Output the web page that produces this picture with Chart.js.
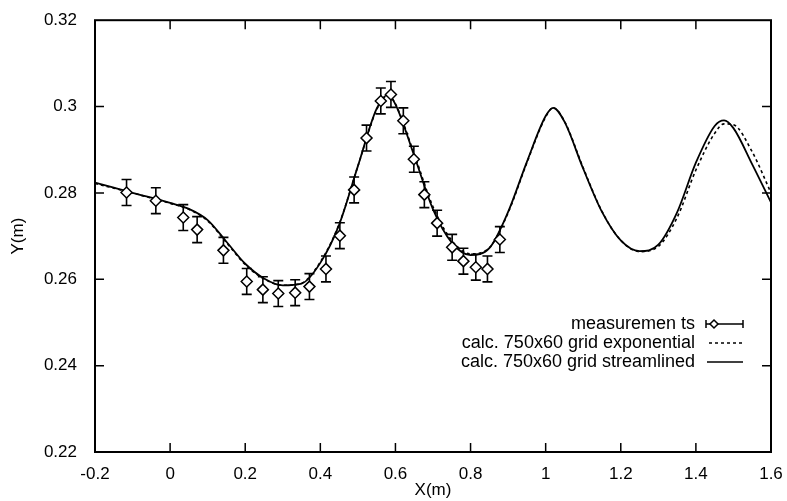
<!DOCTYPE html>
<html>
<head>
<meta charset="utf-8">
<script src="https://cdn.jsdelivr.net/npm/chart.js@4.4.0/dist/chart.umd.min.js"></script>
<style>
    html, body { margin: 0; padding: 0; background: #fff; }
    #wrap { width: 787px; height: 501px; }
</style>
</head>
<body>
<div id="wrap"><canvas id="profileChart" width="787" height="501"></canvas></div>
<script>
// ====================== //
// DATA                   //
// ====================== //

const measX = [-0.116, -0.038, 0.035, 0.072, 0.142, 0.204, 0.247, 0.288, 0.333, 0.371, 0.415, 0.452, 0.490,
               0.523, 0.561, 0.588, 0.621, 0.649, 0.677, 0.711, 0.751, 0.781, 0.814, 0.845, 0.878];
const measY = [0.2801, 0.2782, 0.2743, 0.2715, 0.2667, 0.2595, 0.2576, 0.2567, 0.2569, 0.2583, 0.2624, 0.2701, 0.2807,
               0.2927, 0.3013, 0.3028, 0.2967, 0.2878, 0.2796, 0.2730, 0.2674, 0.2642, 0.2628, 0.2624, 0.2692];
const measErr = [0.003, 0.003, 0.003, 0.003, 0.003, 0.003, 0.003, 0.003, 0.003, 0.003, 0.003, 0.003, 0.003,
                 0.003, 0.003, 0.003, 0.003, 0.003, 0.003, 0.003, 0.003, 0.003, 0.003, 0.003, 0.003];

const curveX = [-0.2, -0.15, -0.1, -0.05, 0, 0.05, 0.1, 0.15, 0.2, 0.25, 0.3, 0.35, 0.4, 0.45, 0.5, 0.55, 0.58,
                0.6, 0.65, 0.7, 0.75, 0.8, 0.85, 0.9, 0.95, 1.0, 1.02, 1.05, 1.1, 1.15, 1.2, 1.25, 1.3, 1.35,
                1.4, 1.45, 1.475, 1.5, 1.55, 1.6];
const streamY = [0.2824, 0.2812, 0.2800, 0.2789, 0.2777, 0.2763, 0.2737, 0.2687, 0.2636, 0.2602, 0.2586, 0.2590,
                 0.2638, 0.2726, 0.2862, 0.2995, 0.3027, 0.3005, 0.2886, 0.2762, 0.2685, 0.2656, 0.2672, 0.2756,
                 0.2872, 0.2978, 0.2997, 0.2965, 0.2856, 0.2756, 0.2690, 0.2665, 0.2680, 0.2755, 0.2870, 0.2955,
                 0.2968, 0.2950, 0.2866, 0.2778];
const expY = [0.2822, 0.2811, 0.2800, 0.2788, 0.2776, 0.2762, 0.2735, 0.2685, 0.2634, 0.2601, 0.2586, 0.2591,
              0.2640, 0.2728, 0.2862, 0.2993, 0.3026, 0.3006, 0.2890, 0.2768, 0.2690, 0.2659, 0.2673, 0.2754,
              0.2870, 0.2976, 0.2997, 0.2966, 0.2858, 0.2757, 0.2690, 0.2664, 0.2676, 0.2743, 0.2853, 0.2938,
              0.2960, 0.2958, 0.2895, 0.2800];

const xTickValues = [-0.2, 0, 0.2, 0.4, 0.6, 0.8, 1.0, 1.2, 1.4, 1.6];
const xTickLabels = ['-0.2', '0', '0.2', '0.4', '0.6', '0.8', '1', '1.2', '1.4', '1.6'];
const yTickValues = [0.22, 0.24, 0.26, 0.28, 0.30, 0.32];
const yTickLabels = ['0.22', '0.24', '0.26', '0.28', '0.3', '0.32'];

const seriesNames = ['measuremen ts', 'calc. 750x60 grid exponential', 'calc. 750x60 grid streamlined'];

const FONT = 'Liberation Sans, Arial, Helvetica, sans-serif';

// ====================== //
// PLUGIN: frame, ticks,  //
// error bars, legend     //
// ====================== //

const plotDecor = {
    id: 'plotDecor',
    beforeDatasetsDraw(chart) {
        const ctx = chart.ctx;
        const xs = chart.scales.x, ys = chart.scales.y;
        ctx.save();
        ctx.strokeStyle = '#000';
        ctx.lineWidth = 1.6;
        measX.forEach((x, i) => {
            const px = xs.getPixelForValue(x);
            const top = ys.getPixelForValue(measY[i] + measErr[i]);
            const bot = ys.getPixelForValue(measY[i] - measErr[i]);
            ctx.beginPath();
            ctx.moveTo(px, top); ctx.lineTo(px, bot);
            ctx.moveTo(px - 5, top); ctx.lineTo(px + 5, top);
            ctx.moveTo(px - 5, bot); ctx.lineTo(px + 5, bot);
            ctx.stroke();
        });
        ctx.restore();
    },
    afterDraw(chart) {
        const ctx = chart.ctx;
        const a = chart.chartArea;
        const xs = chart.scales.x, ys = chart.scales.y;
        const tl = 9;
        ctx.save();
        ctx.strokeStyle = '#000';
        ctx.lineWidth = 1.5;
        ctx.beginPath();
        xTickValues.slice(1, -1).forEach(v => {
            const px = xs.getPixelForValue(v);
            ctx.moveTo(px, a.bottom); ctx.lineTo(px, a.bottom - tl);
            ctx.moveTo(px, a.top); ctx.lineTo(px, a.top + tl);
        });
        yTickValues.slice(1, -1).forEach(v => {
            const py = ys.getPixelForValue(v);
            ctx.moveTo(a.left, py); ctx.lineTo(a.left + tl, py);
            ctx.moveTo(a.right, py); ctx.lineTo(a.right - tl, py);
        });
        ctx.stroke();

        // frame
        ctx.lineWidth = 2;
        ctx.strokeRect(a.left, a.top, a.right - a.left, a.bottom - a.top);

        // legend (text right aligned, sample to the right)
        ctx.font = '18px ' + FONT;
        ctx.fillStyle = '#000';
        ctx.textAlign = 'right';
        ctx.textBaseline = 'middle';
        const textRight = 695, s0 = 706, s1 = 743;
        const rows = [324, 343, 362];
        seriesNames.forEach((name, i) => ctx.fillText(name, textRight, rows[i]));

        ctx.lineWidth = 1.5;
        // measurements sample
        let y = rows[0];
        ctx.beginPath();
        ctx.moveTo(s0, y); ctx.lineTo(s1, y);
        ctx.moveTo(s0, y - 4); ctx.lineTo(s0, y + 4);
        ctx.moveTo(s1, y - 4); ctx.lineTo(s1, y + 4);
        ctx.stroke();
        ctx.beginPath();
        ctx.moveTo(714, y - 4); ctx.lineTo(718, y); ctx.lineTo(714, y + 4); ctx.lineTo(710, y);
        ctx.closePath();
        ctx.fillStyle = '#fff';
        ctx.fill();
        ctx.stroke();
        // dashed sample
        y = rows[1];
        ctx.setLineDash([3, 3]);
        ctx.beginPath(); ctx.moveTo(s0 + 3, y); ctx.lineTo(s1, y); ctx.stroke();
        ctx.setLineDash([]);
        // solid sample
        y = rows[2];
        ctx.beginPath(); ctx.moveTo(s0 + 1, y); ctx.lineTo(s1, y); ctx.stroke();
        ctx.restore();
    }
};

// ====================== //
// CHART                  //
// ====================== //

const toPoints = (xArr, yArr) => xArr.map((x, i) => ({ x: x, y: yArr[i] }));

new Chart(document.getElementById('profileChart'), {
    type: 'scatter',
    data: {
        datasets: [
            {
                label: seriesNames[0],
                data: toPoints(measX, measY),
                showLine: false,
                pointStyle: 'rectRot',
                pointRadius: 5.5,
                pointBorderWidth: 1.5,
                pointBorderColor: '#000',
                pointBackgroundColor: '#fff',
                order: 0
            },
            {
                label: seriesNames[1],
                data: toPoints(curveX, expY),
                showLine: true,
                borderColor: '#000',
                borderWidth: 1.6,
                borderDash: [3, 3],
                pointRadius: 0,
                cubicInterpolationMode: 'monotone',
                order: 2
            },
            {
                label: seriesNames[2],
                data: toPoints(curveX, streamY),
                showLine: true,
                borderColor: '#000',
                borderWidth: 1.8,
                pointRadius: 0,
                cubicInterpolationMode: 'monotone',
                order: 1
            }
        ]
    },
    options: {
        responsive: false,
        animation: false,
        layout: { padding: { left: 0, right: 16, top: 19, bottom: 0 } },
        plugins: {
            legend: { display: false },
            tooltip: { enabled: false }
        },
        scales: {
            x: {
                type: 'linear',
                min: -0.2,
                max: 1.6,
                afterBuildTicks: (scale) => { scale.ticks = xTickValues.map(v => ({ value: v })); },
                afterFit: (scale) => { scale.height = 49; },
                grid: { display: false },
                border: { display: false },
                ticks: {
                    color: '#000',
                    font: { family: FONT, size: 17 },
                    padding: 4,
                    maxRotation: 0,
                    autoSkip: false,
                    callback: (v) => xTickLabels[xTickValues.findIndex(t => Math.abs(t - v) < 1e-9)]
                },
                title: {
                    display: true,
                    text: 'X(m)',
                    color: '#000',
                    font: { family: FONT, size: 17 },
                    padding: { top: 0, bottom: 0 }
                }
            },
            y: {
                type: 'linear',
                min: 0.22,
                max: 0.32,
                afterBuildTicks: (scale) => { scale.ticks = yTickValues.map(v => ({ value: v })); },
                afterFit: (scale) => { scale.width = 95; },
                grid: { display: false },
                border: { display: false },
                ticks: {
                    color: '#000',
                    font: { family: FONT, size: 17 },
                    padding: 10,
                    autoSkip: false,
                    callback: (v) => yTickLabels[yTickValues.findIndex(t => Math.abs(t - v) < 1e-9)]
                },
                title: {
                    display: true,
                    text: 'Y(m)',
                    color: '#000',
                    font: { family: FONT, size: 17 },
                    padding: { top: 8, bottom: 0 }
                }
            }
        }
    },
    plugins: [plotDecor]
});
</script>
</body>
</html>
